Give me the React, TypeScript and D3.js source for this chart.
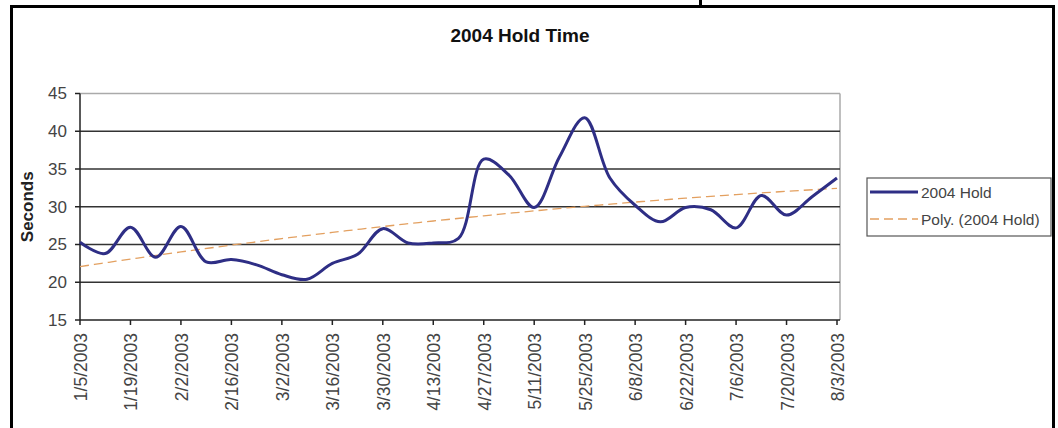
import React from "react";
import * as d3 from "d3";

// ---- data ----
const startDate = "2003-01-05";
const weekOffsets = [0, 1, 2, 3, 4, 5, 6, 7, 8, 9, 10, 11, 12, 13, 14, 15, 16, 17, 18, 19, 20, 21, 22, 23, 24, 25, 26, 27, 28, 29, 30];
const holdSeconds = [25.3, 23.8, 27.3, 23.3, 27.4, 22.7, 23.0, 22.3, 21.0, 20.4, 22.5, 23.7, 27.1, 25.2, 25.2, 25.8, 36.3, 34.2, 29.9, 36.6, 41.8, 33.8, 30.2, 28.0, 29.9, 29.6, 27.2, 31.5, 28.9, 31.3, 33.8];
const yTicks = [15, 20, 25, 30, 35, 40, 45];
const xTickLabels = ["1/5/2003", "1/19/2003", "2/2/2003", "2/16/2003", "3/2/2003", "3/16/2003", "3/30/2003", "4/13/2003", "4/27/2003", "5/11/2003", "5/25/2003", "6/8/2003", "6/22/2003", "7/6/2003", "7/20/2003", "8/3/2003"];
const titleText = "2004 Hold Time";
const yAxisTitle = "Seconds";
const seriesName = "2004 Hold";
const trendName = "Poly. (2004 Hold)";

const DAY = 86400000;
const parse = d3.timeParse("%Y-%m-%d");
const fmtIn = d3.timeParse("%m/%d/%Y");

function polyFit2(xs: number[], ys: number[]) {
  // least squares a + b x + c x^2
  const S = [0, 0, 0, 0, 0];
  const T = [0, 0, 0];
  xs.forEach((x, i) => {
    let p = 1;
    for (let k = 0; k < 5; k++) { S[k] += p; p *= x; }
    T[0] += ys[i]; T[1] += ys[i] * x; T[2] += ys[i] * x * x;
  });
  const M = [
    [S[0], S[1], S[2], T[0]],
    [S[1], S[2], S[3], T[1]],
    [S[2], S[3], S[4], T[2]],
  ];
  for (let i = 0; i < 3; i++) {
    for (let j = i + 1; j < 3; j++) {
      const f = M[j][i] / M[i][i];
      for (let k = i; k < 4; k++) M[j][k] -= f * M[i][k];
    }
  }
  const r = [0, 0, 0];
  for (let i = 2; i >= 0; i--) {
    let s = M[i][3];
    for (let k = i + 1; k < 3; k++) s -= M[i][k] * r[k];
    r[i] = s / M[i][i];
  }
  return (x: number) => r[0] + r[1] * x + r[2] * x * x;
}

export default function App() {
  const W = 1058, H = 428;
  const left = 80, right = 837, plotRight = 840, top = 93.5, bottom = 320;
  const t0 = parse(startDate) as Date;
  const dates = weekOffsets.map((w) => new Date(t0.getTime() + w * 7 * DAY));
  const tEnd = dates[dates.length - 1];

  const x = d3.scaleTime().domain([t0, tEnd]).range([left, right]);
  const y = d3.scaleLinear().domain([15, 45]).range([bottom, top]);

  const pts = dates.map((d, i) => ({ d, v: holdSeconds[i] }));
  const line = d3.line<{ d: Date; v: number }>()
    .x((p) => x(p.d))
    .y((p) => y(p.v))
    .curve(d3.curveCatmullRom.alpha(0.5));

  const xsDays = dates.map((d) => (d.getTime() - t0.getTime()) / DAY);
  const fit = polyFit2(xsDays, holdSeconds);
  const totalDays = (tEnd.getTime() - t0.getTime()) / DAY;
  const trendPts = d3.range(0, totalDays + 0.001, 2).map((dd) => ({ d: new Date(t0.getTime() + dd * DAY), v: fit(dd) }));
  const trendLine = d3.line<{ d: Date; v: number }>().x((p) => x(p.d)).y((p) => y(p.v));

  const tickDates = xTickLabels.map((s) => fmtIn(s) as Date);

  const font = "Arial, 'Liberation Sans', sans-serif";
  const labelColor = "#444";

  return (
    <svg width={W} height={H} style={{ position: "absolute", left: 0, top: 0, background: "#fff" }}>
      <rect x={0} y={0} width={W} height={H} fill="#fff" />
      {/* outer frame */}
      <line x1={11.5} y1={5} x2={11.5} y2={H} stroke="#000" strokeWidth={3} />
      <line x1={10} y1={6.5} x2={1055} y2={6.5} stroke="#000" strokeWidth={3} />
      <line x1={1053.5} y1={5} x2={1053.5} y2={H} stroke="#000" strokeWidth={3} />
      <line x1={700.5} y1={0} x2={700.5} y2={7} stroke="#000" strokeWidth={3} />

      {/* title */}
      <text x={520} y={35} textAnchor="middle" dominantBaseline="central" fontFamily={font} fontWeight="bold" fontSize={19} fill="#111">{titleText}</text>

      {/* plot border */}
      <line x1={left} y1={top} x2={plotRight} y2={top} stroke="#aaa" strokeWidth={1.5} />
      <line x1={plotRight} y1={top} x2={plotRight} y2={bottom} stroke="#aaa" strokeWidth={1.5} />

      {/* gridlines */}
      {yTicks.filter((t) => t !== 15 && t !== 45).map((t) => (
        <line key={"g" + t} x1={left} x2={plotRight} y1={y(t)} y2={y(t)} stroke="#333" strokeWidth={1.5} />
      ))}

      {/* y axis */}
      <line x1={left} y1={top} x2={left} y2={bottom} stroke="#222" strokeWidth={1.5} />
      {yTicks.map((t) => (
        <g key={"y" + t}>
          <line x1={left - 5} x2={left} y1={y(t)} y2={y(t)} stroke="#222" strokeWidth={1.5} />
          <text x={67} y={y(t)} dy="0.35em" textAnchor="end" fontFamily={font} fontSize={17} fill={labelColor}>{t}</text>
        </g>
      ))}
      <text transform={`translate(27,${(top + bottom) / 2}) rotate(-90)`} textAnchor="middle" dominantBaseline="central" fontFamily={font} fontWeight="bold" fontSize={17} fill="#222">{yAxisTitle}</text>

      {/* x axis */}
      <line x1={left} y1={bottom} x2={plotRight} y2={bottom} stroke="#222" strokeWidth={1.5} />
      {tickDates.map((d, i) => (
        <g key={"x" + i}>
          <line x1={x(d)} x2={x(d)} y1={bottom} y2={bottom + 5} stroke="#222" strokeWidth={1.5} />
          <text transform={`translate(${x(d)},333) rotate(-90)`} dy="0.4em" textAnchor="end" fontFamily={font} fontSize={17.5} fill={labelColor}>{xTickLabels[i]}</text>
        </g>
      ))}

      {/* trend */}
      <path d={trendLine(trendPts) || ""} fill="none" stroke="#E3A060" strokeWidth={1.3} strokeDasharray="9,5" />
      {/* series */}
      <path d={line(pts) || ""} fill="none" stroke="#2E2E85" strokeWidth={3} strokeLinejoin="round" />

      {/* legend */}
      <rect x={867} y={178} width={184} height={58} fill="#fff" stroke="#555" strokeWidth={1.2} />
      <line x1={870} x2={918} y1={192} y2={192} stroke="#2E2E85" strokeWidth={3} />
      <text x={921} y={192} dominantBaseline="central" fontFamily={font} fontSize={15.5} fill={labelColor}>{seriesName}</text>
      <line x1={870} x2={918} y1={219} y2={219} stroke="#E3A060" strokeWidth={1.3} strokeDasharray="9,5" />
      <text x={921} y={219} dominantBaseline="central" fontFamily={font} fontSize={15.5} fill={labelColor}>{trendName}</text>
    </svg>
  );
}
